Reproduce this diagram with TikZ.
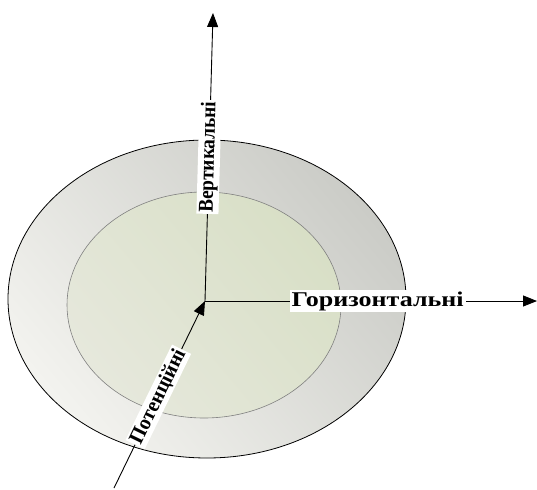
\documentclass[tikz,border=0pt]{standalone}
\usepackage{fontspec}
\setmainfont{Liberation Serif}
\usetikzlibrary{arrows.meta}
\definecolor{outerlight}{HTML}{F3F3EF}
\definecolor{outerdark}{HTML}{CBCCC7}
\definecolor{innerlight}{HTML}{E6E8DC}
\definecolor{innerdark}{HTML}{D8DFC6}
\tikzset{
  arr/.style={draw=black, line width=0.9pt, -{Triangle[length=14pt,width=11pt]}},
  lbl/.style={fill=white, inner sep=1.5pt, font=\bfseries\fontsize{21}{23}\selectfont, text=black},
}
\begin{document}
\begin{tikzpicture}[x=1pt,y=-1pt]
\useasboundingbox (0,0) rectangle (537,489);
\shade[shading=axis, top color=outerdark, bottom color=outerlight, shading angle=-50, draw=black, line width=0.8pt]
  (207,299) ellipse [x radius=199, y radius=159];
\shade[shading=axis, top color=innerdark, bottom color=innerlight, shading angle=-50, draw=gray, line width=0.6pt]
  (204,305) ellipse [x radius=137, y radius=113];
\coordinate (O) at (205,301);
\coordinate (Vt) at (213,13);
\coordinate (Ht) at (537,301);
\coordinate (Ps) at (114,488);
\draw[arr] (O) -- node[lbl, sloped, pos=0.5] (vlab) {\scalebox{0.92}[1]{Вертикальні}} (Vt);
\draw[arr] (O) -- node[lbl, pos=0.52, xscale=1.24] (hlab) {Горизонтальні} (Ht);
\draw[arr] (Ps) -- node[lbl, sloped, pos=0.487] (plab) {\scalebox{0.97}[1]{Потенційні}} (O);
\end{tikzpicture}
\end{document}
